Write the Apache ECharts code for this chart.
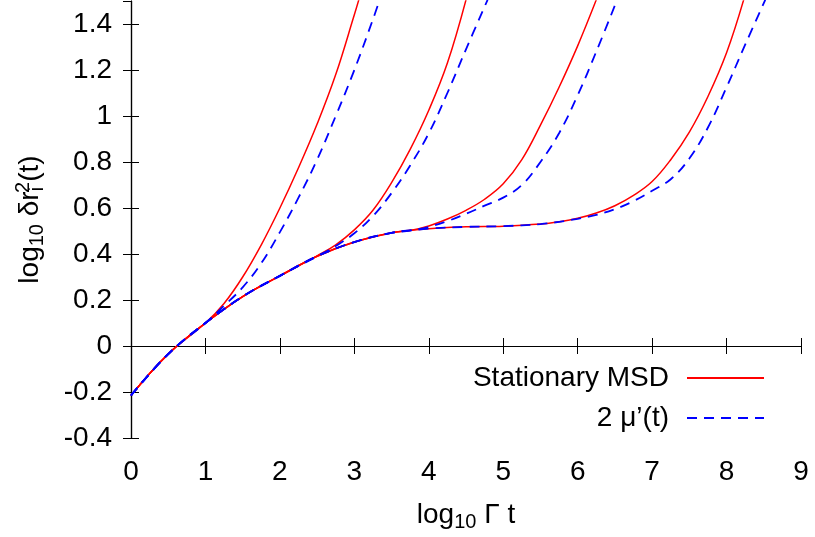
<!DOCTYPE html>
<html>
<head>
<meta charset="utf-8">
<script src="https://cdn.jsdelivr.net/npm/echarts@6/dist/echarts.min.js"></script>
<style>html,body{margin:0;padding:0;background:#fff;}#c{width:815px;height:537px;}</style>
</head>
<body>
<div id="c"></div>
<script>
// Common (shared) curve
const baseX = [0, 0.5, 1.0, 1.5, 2.0, 2.5, 3.0, 3.5, 4.0, 4.5, 5.0, 5.5];
const baseY = [-0.215, -0.035, 0.1, 0.215, 0.305, 0.39, 0.452, 0.492, 0.51, 0.518, 0.521, 0.53];

// Stationary MSD branches (red)
const red1X = [1.0, 1.25, 1.5, 1.75, 2.0, 2.25, 2.5, 2.75, 3.0, 3.06];
const red1Y = [0.1, 0.185, 0.3, 0.44, 0.6, 0.775, 0.965, 1.18, 1.44, 1.505];
const red2X = [2.5, 2.75, 3.0, 3.25, 3.5, 3.75, 4.0, 4.25, 4.5];
const red2Y = [0.392, 0.44, 0.505, 0.59, 0.71, 0.855, 1.025, 1.23, 1.505];
const red3X = [3.75, 4.0, 4.25, 4.5, 4.75, 5.0, 5.25, 5.5, 5.75, 6.0, 6.25];
const red3Y = [0.502, 0.522, 0.552, 0.59, 0.638, 0.705, 0.81, 0.96, 1.125, 1.305, 1.505];
const red4X = [5.5, 5.75, 6.0, 6.25, 6.5, 6.75, 7.0, 7.25, 7.5, 7.75, 8.0, 8.23];
const red4Y = [0.53, 0.54, 0.555, 0.578, 0.61, 0.655, 0.715, 0.81, 0.93, 1.085, 1.275, 1.505];

// 2 mu'(t) branches (blue dashed)
const blue1X = [1.0, 1.25, 1.5, 1.75, 2.0, 2.25, 2.5, 2.75, 3.0, 3.25, 3.34];
const blue1Y = [0.1, 0.175, 0.255, 0.36, 0.495, 0.645, 0.81, 1.0, 1.2, 1.42, 1.505];
const blue2X = [2.5, 2.75, 3.0, 3.25, 3.5, 3.75, 4.0, 4.25, 4.5, 4.79];
const blue2Y = [0.39, 0.435, 0.49, 0.565, 0.665, 0.785, 0.925, 1.1, 1.29, 1.505];
const blue3X = [3.75, 4.0, 4.25, 4.5, 4.75, 5.0, 5.25, 5.5, 5.75, 6.0, 6.25, 6.53];
const blue3Y = [0.502, 0.518, 0.543, 0.575, 0.61, 0.645, 0.7, 0.8, 0.925, 1.09, 1.28, 1.505];
const blue4X = [5.5, 5.75, 6.0, 6.25, 6.5, 6.75, 7.0, 7.25, 7.5, 7.75, 8.0, 8.25, 8.52];
const blue4Y = [0.53, 0.54, 0.553, 0.57, 0.595, 0.63, 0.675, 0.725, 0.815, 0.95, 1.125, 1.31, 1.505];

const xTicks = [0, 1, 2, 3, 4, 5, 6, 7, 8, 9];
const yTicks = [-0.4, -0.2, 0, 0.2, 0.4, 0.6, 0.8, 1, 1.2, 1.4];

const nameRed = 'Stationary MSD';
const nameBlue = "2 \u03bc\u2019(t)";

function curve(bx, by) {
  const pts = [];
  for (let i = 0; i < baseX.length; i++) {
    if (baseX[i] < bx[0]) pts.push([baseX[i], baseY[i]]);
  }
  for (let i = 0; i < bx.length; i++) pts.push([bx[i], by[i]]);
  return pts;
}

const FONT = "'Liberation Sans', Arial, Helvetica, sans-serif";
const redSets = [[red1X, red1Y], [red2X, red2Y], [red3X, red3Y], [red4X, red4Y]];
const blueSets = [[blue1X, blue1Y], [blue2X, blue2Y], [blue3X, blue3Y], [blue4X, blue4Y]];

const series = [];
redSets.forEach(s => series.push({
  name: nameRed, type: 'line', data: curve(s[0], s[1]), symbol: 'none', showSymbol: false,
  smooth: 0.4, clip: true,
  lineStyle: { color: '#ff0000', width: 1.5 }, itemStyle: { color: '#ff0000' }
}));
blueSets.forEach(s => series.push({
  name: nameBlue, type: 'line', data: curve(s[0], s[1]), symbol: 'none', showSymbol: false,
  smooth: 0.4, clip: true,
  lineStyle: { color: '#0000ff', width: 1.8, type: [10, 7] }, itemStyle: { color: '#0000ff' }
}));

const tickStyle = { show: true, inside: true, length: 8, lineStyle: { color: '#000', width: 1 } };
const axLine = { show: true, lineStyle: { color: '#000', width: 1.2 } };

const chart = echarts.init(document.getElementById('c'), null, { renderer: 'canvas' });
chart.setOption({
  animation: false,
  backgroundColor: '#fff',
  textStyle: { fontFamily: FONT },
  grid: { left: 131, right: 14, top: 1, bottom: 94, containLabel: false },
  legend: {
    data: [nameRed, nameBlue],
    orient: 'vertical', align: 'right', right: 45, top: 359,
    itemWidth: 77, itemHeight: 14, itemGap: 12,
    itemStyle: { opacity: 0 },
    textStyle: { fontSize: 28, color: '#000', fontFamily: FONT, padding: [0, 13, 0, 0] }
  },
  xAxis: [{
    type: 'value', min: 0, max: 9, interval: 1, position: 'bottom',
    axisLine: axLine, axisTick: tickStyle, splitLine: { show: false },
    axisLabel: { fontSize: 28, color: '#000', margin: 20, fontFamily: FONT,
      formatter: v => xTicks.includes(v) ? String(v) : '' },
    name: '{a|log}{s|10}{a| \u0393 t}', nameLocation: 'middle', nameGap: 60,
    nameTextStyle: { rich: {
      a: { fontSize: 28, color: '#000', fontFamily: FONT },
      s: { fontSize: 20, color: '#000', fontFamily: FONT, padding: [14, 0, 0, 0] }
    } }
  }, {
    type: 'value', min: 0, max: 9, interval: 1, position: 'top',
    axisLine: axLine, axisTick: tickStyle, axisLabel: { show: false }, splitLine: { show: false }
  }],
  yAxis: [{
    type: 'value', min: -0.4, max: 1.5, interval: 0.2, position: 'left',
    axisLine: axLine, axisTick: tickStyle, splitLine: { show: false },
    axisLabel: { fontSize: 28, color: '#000', margin: 19, fontFamily: FONT, showMaxLabel: false,
      formatter: v => { const r = Math.round(v * 10) / 10; return yTicks.includes(r) ? String(r) : ''; } },
    name: '{a|log}{s|10}{a| \u03b4r}{s|i}{p|2}{a|(t)}', nameLocation: 'middle', nameGap: 84, nameRotate: 90,
    nameTextStyle: { rich: {
      a: { fontSize: 28, color: '#000', fontFamily: FONT },
      s: { fontSize: 20, color: '#000', fontFamily: FONT, padding: [14, 0, 0, 0] },
      p: { fontSize: 20, color: '#000', fontFamily: FONT, padding: [0, 0, 14, -6] }
    } }
  }, {
    type: 'value', min: -0.4, max: 1.5, interval: 0.2, position: 'right',
    axisLine: axLine, axisTick: tickStyle, axisLabel: { show: false }, splitLine: { show: false }
  }],
  series: series
});
</script>
</body>
</html>
